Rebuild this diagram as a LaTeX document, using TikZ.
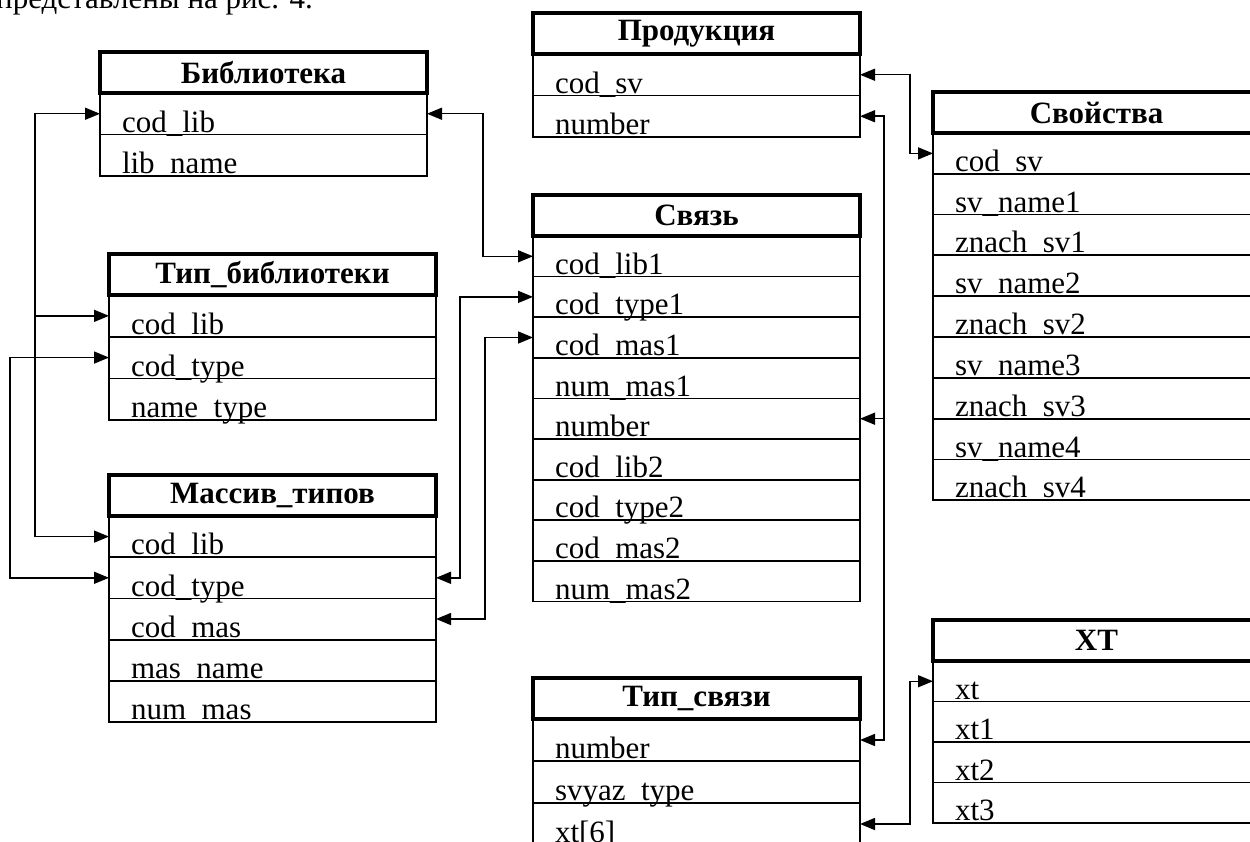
\documentclass[tikz,border=0pt]{standalone}
\usepackage{fontspec}
\setmainfont{Liberation Serif}
\usetikzlibrary{arrows.meta,calc}
\tikzset{
  x=1pt, y=-1pt,
  hdr/.style={draw, line width=3.5pt, outer sep=0pt, inner sep=0pt,
    minimum width=327pt, minimum height=41pt, anchor=north west,
    font=\fontsize{31}{33}\selectfont\bfseries},
  fld/.style={draw, line width=1.8pt, outer sep=0pt, inner ysep=0pt, inner xsep=22pt,
    text width=283pt, align=left, anchor=north west, text depth=2.4pt,
    font=\fontsize{31}{33}\selectfont},
  conn/.style={line width=1.5pt},
  tip/.style={-{Triangle[length=15pt,width=12pt]}},
  dtip/.style={{Triangle[length=15pt,width=12pt]}-{Triangle[length=15pt,width=12pt]}},
}
\newcommand\erdtable[6]{%
  \node[hdr] (#1) at (#2,#3) {#4};
  \pgfmathsetmacro\fldth{#5-2.4}
  \foreach \rowtxt [count=\i] in {#6} {
    \node[fld, text height=\fldth pt] (#1-\i) at (#2,{#3+41+(\i-1)*#5}) {\rowtxt};
  }
}
\begin{document}
\begin{tikzpicture}
\useasboundingbox (0,0) rectangle (1250,842);
\fill[white] (0,0) rectangle (1250,842);
\clip (0,0) rectangle (1250,842);

\node[anchor=base east, inner sep=0pt, font=\fontsize{31}{33}\selectfont] (caption) at (313,9) {представлены на рис. 4.};

\erdtable{lib}{100}{52}{Библиотека}{41.5}{cod\_lib, lib\_name}
\erdtable{tlib}{109}{254}{Тип\_библиотеки}{41.7}{cod\_lib, cod\_type, name\_type}
\erdtable{mas}{109}{475}{Массив\_типов}{41.2}{cod\_lib, cod\_type, cod\_mas, mas\_name, num\_mas}
\erdtable{prod}{533}{13}{Продукция}{41.5}{cod\_sv, number}
\erdtable{svaz}{533}{195}{Связь}{40.6}{cod\_lib1, cod\_type1, cod\_mas1, num\_mas1, number, cod\_lib2, cod\_type2, cod\_mas2, num\_mas2}
\erdtable{svoi}{933}{92}{Свойства}{40.8}{cod\_sv, sv\_name1, znach\_sv1, sv\_name2, znach\_sv2, sv\_name3, znach\_sv3, sv\_name4, znach\_sv4}
\erdtable{tsv}{533}{678}{Тип\_связи}{42}{number, svyaz\_type, {xt[6]}}
\erdtable{xt}{933}{620}{XT}{40.5}{xt, xt1, xt2, xt3}

\coordinate (xA) at (35,0);
\coordinate (xB) at (10,0);
\coordinate (xC) at (483,0);
\coordinate (xD) at (460,0);
\coordinate (xE) at (485,0);
\coordinate (xF) at (910,0);
\coordinate (xG) at (884,0);

\draw[conn,dtip] (lib-1.west) -- (lib-1.west -| xA) |- (mas-1.west);
\draw[conn,tip] (tlib-1.west -| xA) -- (tlib-1.west);
\draw[conn,dtip] (tlib-2.west) -- (tlib-2.west -| xB) |- (mas-2.west);
\draw[conn,dtip] (lib-1.east) -- (lib-1.east -| xC) |- (svaz-1.west);
\draw[conn,dtip] (svaz-2.west) -- (svaz-2.west -| xD) |- (mas-2.east);
\draw[conn,dtip] (svaz-3.west) -- (svaz-3.west -| xE) |- (mas-3.east);
\draw[conn,dtip] (prod-1.east) -- (prod-1.east -| xF) |- (svoi-1.west);
\draw[conn,dtip] (prod-2.east) -- (prod-2.east -| xG) |- (tsv-1.east);
\draw[conn,tip] (svaz-5.east -| xG) -- (svaz-5.east);
\draw[conn,dtip] (tsv-3.east) -- (tsv-3.east -| xF) |- (xt-1.west);
\end{tikzpicture}
\end{document}
